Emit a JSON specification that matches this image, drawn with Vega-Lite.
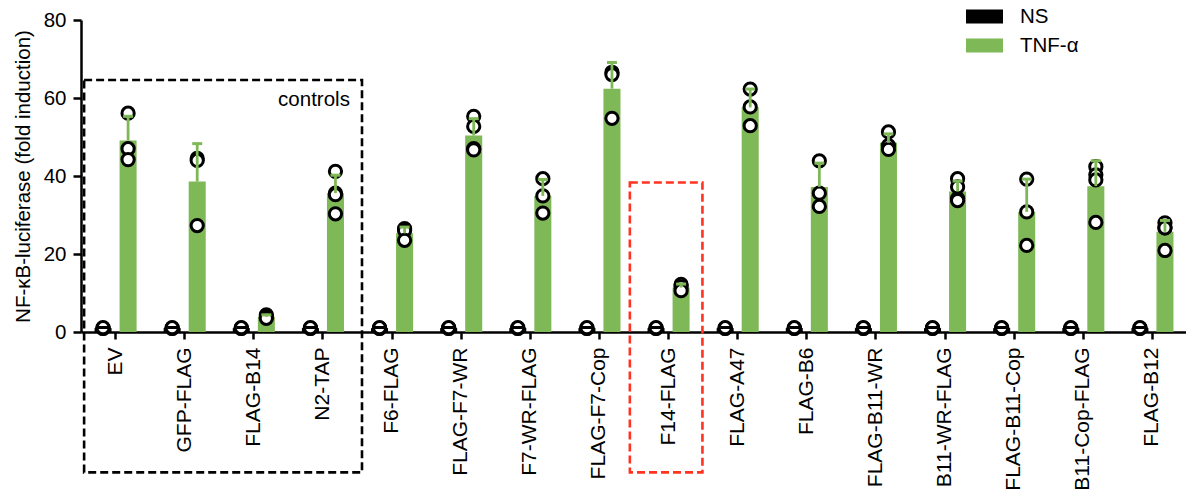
{
  "$schema": "https://vega.github.io/schema/vega-lite/v6.json",
  "width": 1106,
  "height": 312,
  "autosize": {"type": "none"},
  "padding": {"left": 81, "top": 20, "right": 0, "bottom": 164},
  "config": {
    "view": {"stroke": null},
    "font": "Liberation Sans",
    "axis": {"grid": false, "labelColor": "black", "titleColor": "black", "domainColor": "black", "tickColor": "black"}
  },
  "datasets": {
    "bars": [
      {"cat": "EV", "group": "NS", "mean": 1.0, "upper": 1.15},
      {"cat": "EV", "group": "TNF-α", "mean": 49.1, "upper": 55.3},
      {"cat": "GFP-FLAG", "group": "NS", "mean": 1.0, "upper": 1.15},
      {"cat": "GFP-FLAG", "group": "TNF-α", "mean": 38.6, "upper": 48.3},
      {"cat": "FLAG-B14", "group": "NS", "mean": 1.0, "upper": 1.15},
      {"cat": "FLAG-B14", "group": "TNF-α", "mean": 3.9, "upper": 4.4},
      {"cat": "N2-TAP", "group": "NS", "mean": 1.0, "upper": 1.15},
      {"cat": "N2-TAP", "group": "TNF-α", "mean": 35.6, "upper": 40.2},
      {"cat": "F6-FLAG", "group": "NS", "mean": 1.0, "upper": 1.15},
      {"cat": "F6-FLAG", "group": "TNF-α", "mean": 25.3, "upper": 26.9},
      {"cat": "FLAG-F7-WR", "group": "NS", "mean": 1.0, "upper": 1.15},
      {"cat": "FLAG-F7-WR", "group": "TNF-α", "mean": 50.4, "upper": 54.7},
      {"cat": "F7-WR-FLAG", "group": "NS", "mean": 1.0, "upper": 1.15},
      {"cat": "F7-WR-FLAG", "group": "TNF-α", "mean": 34.9, "upper": 39.1},
      {"cat": "FLAG-F7-Cop", "group": "NS", "mean": 1.0, "upper": 1.15},
      {"cat": "FLAG-F7-Cop", "group": "TNF-α", "mean": 62.4, "upper": 69.1},
      {"cat": "F14-FLAG", "group": "NS", "mean": 1.0, "upper": 1.15},
      {"cat": "F14-FLAG", "group": "TNF-α", "mean": 11.4, "upper": 12.3},
      {"cat": "FLAG-A47", "group": "NS", "mean": 1.0, "upper": 1.15},
      {"cat": "FLAG-A47", "group": "TNF-α", "mean": 57.6, "upper": 62.3},
      {"cat": "FLAG-B6", "group": "NS", "mean": 1.0, "upper": 1.15},
      {"cat": "FLAG-B6", "group": "TNF-α", "mean": 37.2, "upper": 43.3},
      {"cat": "FLAG-B11-WR", "group": "NS", "mean": 1.0, "upper": 1.15},
      {"cat": "FLAG-B11-WR", "group": "TNF-α", "mean": 48.5, "upper": 50.8},
      {"cat": "B11-WR-FLAG", "group": "NS", "mean": 1.0, "upper": 1.15},
      {"cat": "B11-WR-FLAG", "group": "TNF-α", "mean": 36.0, "upper": 38.7},
      {"cat": "FLAG-B11-Cop", "group": "NS", "mean": 1.0, "upper": 1.15},
      {"cat": "FLAG-B11-Cop", "group": "TNF-α", "mean": 30.8, "upper": 39.2},
      {"cat": "B11-Cop-FLAG", "group": "NS", "mean": 1.0, "upper": 1.15},
      {"cat": "B11-Cop-FLAG", "group": "TNF-α", "mean": 37.4, "upper": 43.9},
      {"cat": "FLAG-B12", "group": "NS", "mean": 1.0, "upper": 1.15},
      {"cat": "FLAG-B12", "group": "TNF-α", "mean": 25.7, "upper": 28.6}
    ],
    "points": [
      {"cat": "EV", "group": "NS", "value": 0.9}, {"cat": "EV", "group": "NS", "value": 1.0}, {"cat": "EV", "group": "NS", "value": 1.1},
      {"cat": "EV", "group": "TNF-α", "value": 56.1}, {"cat": "EV", "group": "TNF-α", "value": 47.0}, {"cat": "EV", "group": "TNF-α", "value": 44.2},
      {"cat": "GFP-FLAG", "group": "NS", "value": 0.9}, {"cat": "GFP-FLAG", "group": "NS", "value": 1.0}, {"cat": "GFP-FLAG", "group": "NS", "value": 1.1},
      {"cat": "GFP-FLAG", "group": "TNF-α", "value": 44.5}, {"cat": "GFP-FLAG", "group": "TNF-α", "value": 44.0}, {"cat": "GFP-FLAG", "group": "TNF-α", "value": 27.3},
      {"cat": "FLAG-B14", "group": "NS", "value": 0.9}, {"cat": "FLAG-B14", "group": "NS", "value": 1.0}, {"cat": "FLAG-B14", "group": "NS", "value": 1.1},
      {"cat": "FLAG-B14", "group": "TNF-α", "value": 4.4}, {"cat": "FLAG-B14", "group": "TNF-α", "value": 3.9}, {"cat": "FLAG-B14", "group": "TNF-α", "value": 3.5},
      {"cat": "N2-TAP", "group": "NS", "value": 0.9}, {"cat": "N2-TAP", "group": "NS", "value": 1.0}, {"cat": "N2-TAP", "group": "NS", "value": 1.1},
      {"cat": "N2-TAP", "group": "TNF-α", "value": 41.2}, {"cat": "N2-TAP", "group": "TNF-α", "value": 35.6}, {"cat": "N2-TAP", "group": "TNF-α", "value": 35.2}, {"cat": "N2-TAP", "group": "TNF-α", "value": 30.3},
      {"cat": "F6-FLAG", "group": "NS", "value": 0.9}, {"cat": "F6-FLAG", "group": "NS", "value": 1.0}, {"cat": "F6-FLAG", "group": "NS", "value": 1.1},
      {"cat": "F6-FLAG", "group": "TNF-α", "value": 26.5}, {"cat": "F6-FLAG", "group": "TNF-α", "value": 26.0}, {"cat": "F6-FLAG", "group": "TNF-α", "value": 23.5},
      {"cat": "FLAG-F7-WR", "group": "NS", "value": 0.9}, {"cat": "FLAG-F7-WR", "group": "NS", "value": 1.0}, {"cat": "FLAG-F7-WR", "group": "NS", "value": 1.1},
      {"cat": "FLAG-F7-WR", "group": "TNF-α", "value": 55.3}, {"cat": "FLAG-F7-WR", "group": "TNF-α", "value": 52.7}, {"cat": "FLAG-F7-WR", "group": "TNF-α", "value": 47.0}, {"cat": "FLAG-F7-WR", "group": "TNF-α", "value": 46.7},
      {"cat": "F7-WR-FLAG", "group": "NS", "value": 0.9}, {"cat": "F7-WR-FLAG", "group": "NS", "value": 1.0}, {"cat": "F7-WR-FLAG", "group": "NS", "value": 1.1},
      {"cat": "F7-WR-FLAG", "group": "TNF-α", "value": 39.3}, {"cat": "F7-WR-FLAG", "group": "TNF-α", "value": 34.9}, {"cat": "F7-WR-FLAG", "group": "TNF-α", "value": 30.5},
      {"cat": "FLAG-F7-Cop", "group": "NS", "value": 0.9}, {"cat": "FLAG-F7-Cop", "group": "NS", "value": 1.0}, {"cat": "FLAG-F7-Cop", "group": "NS", "value": 1.1},
      {"cat": "FLAG-F7-Cop", "group": "TNF-α", "value": 66.6}, {"cat": "FLAG-F7-Cop", "group": "TNF-α", "value": 66.0}, {"cat": "FLAG-F7-Cop", "group": "TNF-α", "value": 54.8},
      {"cat": "F14-FLAG", "group": "NS", "value": 0.9}, {"cat": "F14-FLAG", "group": "NS", "value": 1.0}, {"cat": "F14-FLAG", "group": "NS", "value": 1.1},
      {"cat": "F14-FLAG", "group": "TNF-α", "value": 12.2}, {"cat": "F14-FLAG", "group": "TNF-α", "value": 11.6}, {"cat": "F14-FLAG", "group": "TNF-α", "value": 10.6},
      {"cat": "FLAG-A47", "group": "NS", "value": 0.9}, {"cat": "FLAG-A47", "group": "NS", "value": 1.0}, {"cat": "FLAG-A47", "group": "NS", "value": 1.1},
      {"cat": "FLAG-A47", "group": "TNF-α", "value": 62.3}, {"cat": "FLAG-A47", "group": "TNF-α", "value": 57.7}, {"cat": "FLAG-A47", "group": "TNF-α", "value": 52.9},
      {"cat": "FLAG-B6", "group": "NS", "value": 0.9}, {"cat": "FLAG-B6", "group": "NS", "value": 1.0}, {"cat": "FLAG-B6", "group": "NS", "value": 1.1},
      {"cat": "FLAG-B6", "group": "TNF-α", "value": 43.9}, {"cat": "FLAG-B6", "group": "TNF-α", "value": 35.6}, {"cat": "FLAG-B6", "group": "TNF-α", "value": 32.2},
      {"cat": "FLAG-B11-WR", "group": "NS", "value": 0.9}, {"cat": "FLAG-B11-WR", "group": "NS", "value": 1.0}, {"cat": "FLAG-B11-WR", "group": "NS", "value": 1.1},
      {"cat": "FLAG-B11-WR", "group": "TNF-α", "value": 51.3}, {"cat": "FLAG-B11-WR", "group": "TNF-α", "value": 47.8}, {"cat": "FLAG-B11-WR", "group": "TNF-α", "value": 46.8},
      {"cat": "B11-WR-FLAG", "group": "NS", "value": 0.9}, {"cat": "B11-WR-FLAG", "group": "NS", "value": 1.0}, {"cat": "B11-WR-FLAG", "group": "NS", "value": 1.1},
      {"cat": "B11-WR-FLAG", "group": "TNF-α", "value": 39.3}, {"cat": "B11-WR-FLAG", "group": "TNF-α", "value": 37.2}, {"cat": "B11-WR-FLAG", "group": "TNF-α", "value": 34.2}, {"cat": "B11-WR-FLAG", "group": "TNF-α", "value": 33.7},
      {"cat": "FLAG-B11-Cop", "group": "NS", "value": 0.9}, {"cat": "FLAG-B11-Cop", "group": "NS", "value": 1.0}, {"cat": "FLAG-B11-Cop", "group": "NS", "value": 1.1},
      {"cat": "FLAG-B11-Cop", "group": "TNF-α", "value": 39.2}, {"cat": "FLAG-B11-Cop", "group": "TNF-α", "value": 30.8}, {"cat": "FLAG-B11-Cop", "group": "TNF-α", "value": 22.2},
      {"cat": "B11-Cop-FLAG", "group": "NS", "value": 0.9}, {"cat": "B11-Cop-FLAG", "group": "NS", "value": 1.0}, {"cat": "B11-Cop-FLAG", "group": "NS", "value": 1.1},
      {"cat": "B11-Cop-FLAG", "group": "TNF-α", "value": 42.4}, {"cat": "B11-Cop-FLAG", "group": "TNF-α", "value": 40.3}, {"cat": "B11-Cop-FLAG", "group": "TNF-α", "value": 39.0}, {"cat": "B11-Cop-FLAG", "group": "TNF-α", "value": 28.1},
      {"cat": "FLAG-B12", "group": "NS", "value": 0.9}, {"cat": "FLAG-B12", "group": "NS", "value": 1.0}, {"cat": "FLAG-B12", "group": "NS", "value": 1.1},
      {"cat": "FLAG-B12", "group": "TNF-α", "value": 28.0}, {"cat": "FLAG-B12", "group": "TNF-α", "value": 26.7}, {"cat": "FLAG-B12", "group": "TNF-α", "value": 26.7}, {"cat": "FLAG-B12", "group": "TNF-α", "value": 20.9}
    ]
  },
  "resolve": {"scale": {"x": "independent"}},
  "layer": [
    {
      "encoding": {
        "x": {
          "field": "cat", "type": "nominal", "sort": null,
          "scale": {"paddingInner": 0, "paddingOuter": 0},
          "axis": {"title": null, "labelAngle": -90, "labelFontSize": 21, "tickSize": 7, "tickWidth": 2.5, "domainWidth": 2.5, "labelPadding": 8}
        },
        "xOffset": {"field": "group", "type": "nominal", "scale": {"domain": ["NS", "TNF-α"], "paddingInner": 0.32, "paddingOuter": 0.54}}
      },
      "layer": [
        {
          "data": {"name": "bars"},
          "mark": {"type": "bar", "opacity": 1},
          "encoding": {
            "y": {
              "field": "mean", "type": "quantitative",
              "scale": {"domain": [0, 80], "nice": false},
              "axis": {"values": [0, 20, 40, 60, 80], "title": "NF-κB-luciferase (fold induction)", "titleFontSize": 20.5, "titleFontWeight": "normal", "labelFontSize": 20.5, "tickSize": 8, "tickWidth": 2.5, "domainWidth": 2.5, "labelPadding": 7, "titlePadding": 10}
            },
            "color": {
              "field": "group", "type": "nominal",
              "scale": {"domain": ["NS", "TNF-α"], "range": ["#000000", "#7fb857"]},
              "legend": {"orient": "none", "legendX": 885, "legendY": -22, "title": null, "labelFontSize": 20.5, "labelColor": "black", "symbolType": "M-1,-0.38L1,-0.38L1,0.38L-1,0.38Z", "symbolSize": 1369, "symbolStrokeWidth": 0, "symbolOpacity": 1, "labelOffset": 17, "rowPadding": -5}
            }
          }
        },
        {
          "data": {"name": "points"},
          "mark": {"type": "circle", "fill": "white", "stroke": "black", "strokeWidth": 3, "size": 150, "opacity": 1, "fillOpacity": 1},
          "encoding": {
            "y": {"field": "value", "type": "quantitative"}
          }
        },
        {
          "data": {"name": "bars"},
          "mark": {"type": "rule", "strokeWidth": 2.8, "opacity": 1},
          "encoding": {
            "y": {"field": "mean", "type": "quantitative"},
            "y2": {"field": "upper"},
            "color": {"field": "group", "type": "nominal"}
          }
        },
        {
          "data": {"name": "bars"},
          "mark": {"type": "tick", "size": 10, "thickness": 3, "opacity": 1},
          "encoding": {
            "y": {"field": "upper", "type": "quantitative"},
            "color": {"field": "group", "type": "nominal"}
          }
        }
      ]
    },
    {
      "data": {"values": [{}]},
      "layer": [
        {
          "mark": {"type": "rect", "fill": null, "stroke": "black", "strokeWidth": 2.6, "strokeDash": [8, 4], "clip": false},
          "encoding": {
            "x": {"datum": 0.045, "type": "quantitative", "scale": {"domain": [0, 16], "nice": false, "zero": false}, "axis": null},
            "x2": {"datum": 4.065},
            "y": {"datum": 64.6, "type": "quantitative"},
            "y2": {"datum": -36.0}
          }
        },
        {
          "mark": {"type": "rect", "fill": null, "stroke": "#ff3320", "strokeWidth": 2.6, "strokeDash": [8, 4], "clip": false},
          "encoding": {
            "x": {"datum": 7.94, "type": "quantitative", "axis": null},
            "x2": {"datum": 8.99},
            "y": {"datum": 38.35, "type": "quantitative"},
            "y2": {"datum": -36.0}
          }
        },
        {
          "mark": {"type": "text", "text": "controls", "align": "right", "baseline": "middle", "fontSize": 20.5, "color": "black"},
          "encoding": {
            "x": {"datum": 3.89, "type": "quantitative", "axis": null},
            "y": {"datum": 59.5, "type": "quantitative"}
          }
        }
      ]
    }
  ]
}
